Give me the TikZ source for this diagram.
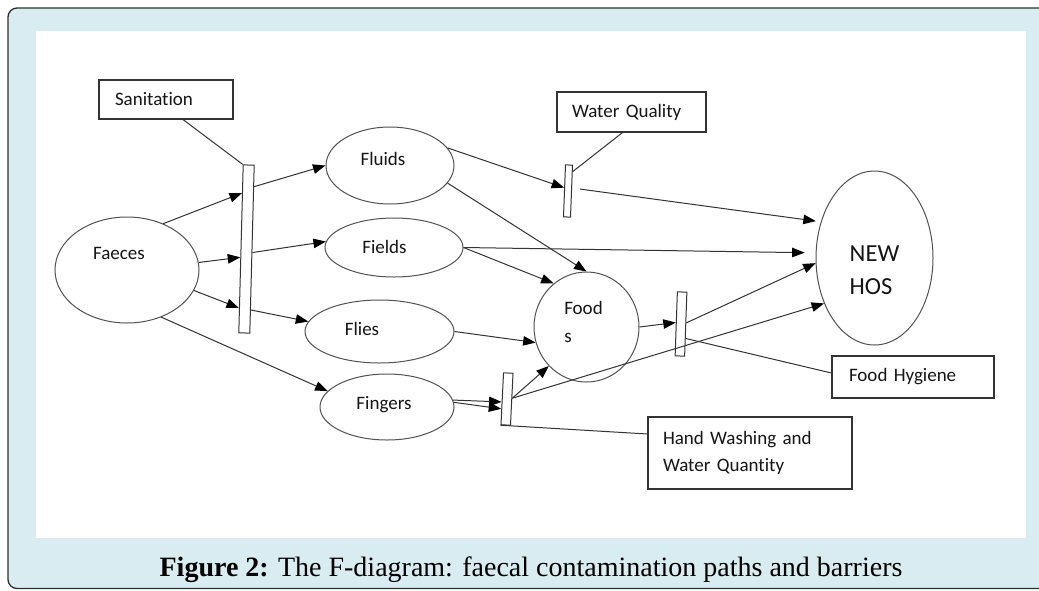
\documentclass[tikz,border=0pt]{standalone}
\usepackage{fontspec}
\setmainfont{Liberation Serif}
\newfontfamily\calibri[Ligatures=NoCommon]{Carlito}
\usetikzlibrary{arrows.meta,shapes.geometric,calc}
\definecolor{framebg}{HTML}{D9ECF1}
\definecolor{framedraw}{HTML}{2E2E2E}
\definecolor{linegray}{HTML}{333333}
\definecolor{inkgray}{HTML}{151515}

\begin{document}
\begin{tikzpicture}[
  x=1pt, y=-1pt,
  every node/.style={font=\calibri\fontsize{19}{27.5}\selectfont, text=inkgray},
  oval/.style={ellipse, draw=linegray!85, line width=1pt, inner sep=0pt},
  barrier/.style={rectangle, draw=linegray, line width=1pt, inner sep=0pt},
  lbox/.style={rectangle, draw=linegray, line width=1.1pt, inner ysep=0pt, align=left},
  arrow/.style={-{Triangle[length=12.5pt,width=9.5pt,color=black]}, line width=1pt, color=linegray},
  link/.style={line width=1pt, color=linegray}
]

% frame and white panel
\clip (0,0) rectangle (1039,590);
\draw[fill=framebg, draw=framedraw, line width=1.3pt, rounded corners=9pt] (8,8) rectangle (1060,588.5);
\fill[white] (36,31) rectangle (1026,538);

% barrier labels
\node[lbox, text width=102pt, inner xsep=16pt, minimum height=39pt] (sanit) at (166,99.5) {Sanitation};
\node[lbox, text width=119pt, inner xsep=15pt, minimum height=40pt] (wqual) at (631.5,112) {Water Quality};
\node[lbox, text width=128pt, inner xsep=17pt, minimum height=42pt] (foodhyg) at (913,377) {Food Hygiene};
\node[lbox, text width=174pt, inner xsep=15pt, minimum height=72pt] (hand) at (750,453) {Hand Washing and\\Water Quantity};

% the F's
\node[oval, minimum width=144pt, minimum height=106pt, label={[xshift=-8pt,yshift=17pt]center:Faeces}] (faeces) at (127,270) {};
\node[oval, minimum width=128pt, minimum height=77pt, label={[xshift=-7pt,yshift=7pt]center:Fluids}] (fluids) at (390,165.5) {};
\node[oval, minimum width=138pt, minimum height=59pt, label={[xshift=-9.5pt,yshift=1pt]center:Fields}] (fields) at (394,247.5) {};
\node[oval, minimum width=149pt, minimum height=63pt, label={[xshift=-17.5pt,yshift=2.5pt]center:Flies}] (flies) at (379.5,331.5) {};
\node[oval, minimum width=134pt, minimum height=66pt, label={[xshift=-3pt,yshift=2pt]center:Fingers}] (fingers) at (387,407) {};
\node[oval, minimum width=105pt, minimum height=110pt, label={[align=left,xshift=-3pt,yshift=5pt]center:Food\\s}] (foods) at (586.5,327) {};
\node[oval, minimum width=117pt, minimum height=174pt, label={[align=left,font=\calibri\fontsize{24.5}{33}\selectfont,yshift=-12pt]center:NEW\\HOS}] (newhos) at (874.5,258) {};

% barriers
\node[barrier, minimum width=11pt, minimum height=168pt, rotate=-1.5] (sanbar) at (246.5,249) {};
\node[barrier, minimum width=7pt, minimum height=52pt, rotate=-2.2] (wqbar) at (568,191) {};
\node[barrier, minimum width=9.5pt, minimum height=52pt, rotate=-2.8] (fingbar) at (507,399) {};
\node[barrier, minimum width=9.5pt, minimum height=64pt, rotate=-2] (foodbar) at (681,324) {};

% faeces through sanitation
\draw[arrow] (faeces.52) -- ($(sanbar.north west)!0.17!(sanbar.south west)$);
\draw[arrow] (faeces.6) -- ($(sanbar.north west)!0.55!(sanbar.south west)$);
\draw[arrow] (faeces.-17) -- ($(sanbar.north west)!0.85!(sanbar.south west)$);
\draw[arrow] (faeces.-54) -- (fingers.165);
\draw[arrow] ($(sanbar.north east)!0.13!(sanbar.south east)$) -- (fluids.west);
\draw[arrow] ($(sanbar.north east)!0.52!(sanbar.south east)$) -- (fields.175);
\draw[arrow] ($(sanbar.north east)!0.86!(sanbar.south east)$) -- (flies.172);
\draw[link] ([xshift=17pt]sanit.south) -- (sanbar.north west);

% fluids, fields, flies
\draw[arrow] (fluids.17) -- ($(wqbar.north west)!0.44!(wqbar.south west)$);
\draw[arrow] (fluids.-17) -- (foods.north);
\draw[link] ([xshift=-9pt]wqual.south) -- ($(wqbar.north east)!0.13!(wqbar.south east)$);
\draw[arrow, shorten <=8pt, shorten >=5pt] ($(wqbar.north east)!0.44!(wqbar.south east)$) -- (newhos.146);
\draw[arrow, shorten >=11pt] (fields.east) -- (newhos.175);
\draw[arrow] (fields.east) -- (foods.127);
\draw[arrow] (flies.east) -- (foods.197);

% fingers
\draw[arrow] (fingers.6) -- ($(fingbar.north west)!0.56!(fingbar.south west)$);
\draw[arrow] (fingers.4) -- ($(fingbar.north west)!0.69!(fingbar.south west)$);
\draw[arrow] ($(fingbar.north east)!0.48!(fingbar.south east)$) -- (foods.226);
\draw[arrow] ($(fingbar.north east)!0.48!(fingbar.south east)$) -- (newhos.222);
\draw[link] (fingbar.south west) -- ([yshift=19pt]hand.west);

% foods
\draw[arrow] (foods.east) -- ($(foodbar.north west)!0.48!(foodbar.south west)$);
\draw[arrow] ($(foodbar.north east)!0.48!(foodbar.south east)$) -- (newhos.185);
\draw[link] ($(foodbar.north east)!0.72!(foodbar.south east)$) -- ([yshift=4pt]foodhyg.west);

\node[font=\fontsize{28}{32}\selectfont, text=black, anchor=base] (caption) at (531,576) {\textbf{Figure 2:} The F-diagram: faecal contamination paths and barriers};
\end{tikzpicture}
\end{document}
